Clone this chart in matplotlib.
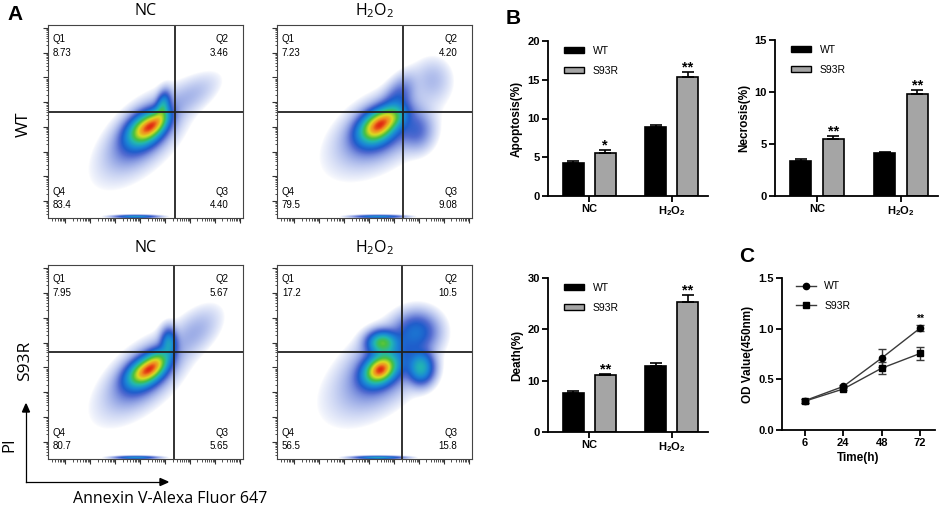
import numpy as np
import matplotlib
matplotlib.use("Agg")
import matplotlib.pyplot as plt
from matplotlib.colors import LinearSegmentedColormap
from matplotlib.lines import Line2D
from matplotlib.patches import Patch

plt.rcParams['mathtext.default'] = 'regular'

W, H = 941, 508

# ---- flow cytometry panels (A) ----
quad_q1 = [8.73, 7.23, 7.95, 17.2]
quad_q2 = [3.46, 4.20, 5.67, 10.5]
quad_q3 = [4.40, 9.08, 5.65, 15.8]
quad_q4 = [83.4, 79.5, 80.7, 56.5]
gate_x = [0.651, 0.646, 0.646, 0.641]
gate_y = [0.549, 0.549, 0.552, 0.552]
flow_titles = ['NC', 'H$_2$O$_2$', 'NC', 'H$_2$O$_2$']
row_labels = ['WT', 'S93R']

# cell clouds: (x, y, sx, sy, rho, weight), axes fraction
wt_nc_blobs = [(0.50, 0.46, 0.055, 0.05, 0.35, 1.0),
               (0.56, 0.50, 0.04, 0.04, 0.4, 0.55),
               (0.59, 0.58, 0.022, 0.045, 0.3, 0.4),
               (0.49, 0.44, 0.09, 0.09, 0.55, 0.22),
               (0.47, 0.40, 0.15, 0.15, 0.6, 0.05),
               (0.74, 0.64, 0.09, 0.07, 0.6, 0.05),
               (0.45, 0.006, 0.065, 0.005, 0.0, 0.45)]
wt_h2o2_blobs = [(0.51, 0.47, 0.055, 0.05, 0.3, 1.0),
                 (0.58, 0.52, 0.05, 0.04, 0.3, 0.5),
                 (0.53, 0.46, 0.10, 0.085, 0.4, 0.22),
                 (0.52, 0.43, 0.17, 0.14, 0.5, 0.05),
                 (0.72, 0.45, 0.05, 0.06, 0.0, 0.12),
                 (0.62, 0.62, 0.05, 0.07, 0.5, 0.15),
                 (0.80, 0.72, 0.06, 0.07, 0.0, 0.05),
                 (0.52, 0.006, 0.075, 0.005, 0.0, 0.4)]
mut_nc_blobs = [(0.50, 0.45, 0.055, 0.045, 0.4, 1.0),
                (0.56, 0.50, 0.04, 0.04, 0.3, 0.5),
                (0.62, 0.60, 0.025, 0.045, 0.0, 0.35),
                (0.50, 0.44, 0.09, 0.085, 0.55, 0.22),
                (0.47, 0.40, 0.15, 0.14, 0.6, 0.05),
                (0.76, 0.66, 0.08, 0.08, 0.5, 0.06),
                (0.45, 0.006, 0.065, 0.005, 0.0, 0.4)]
mut_h2o2_blobs = [(0.53, 0.46, 0.05, 0.045, 0.3, 1.0),
                  (0.54, 0.60, 0.045, 0.035, 0.0, 0.55),
                  (0.74, 0.47, 0.04, 0.05, 0.0, 0.4),
                  (0.72, 0.66, 0.065, 0.06, 0.0, 0.18),
                  (0.56, 0.49, 0.11, 0.11, 0.5, 0.16),
                  (0.50, 0.42, 0.17, 0.15, 0.5, 0.04),
                  (0.52, 0.006, 0.075, 0.005, 0.0, 0.4)]
flow_blobs = [wt_nc_blobs, wt_h2o2_blobs, mut_nc_blobs, mut_h2o2_blobs]

# ---- bar panels (B) ----
groups = ['NC', 'H$_2$O$_2$']
apop_wt = [4.3, 8.85]
apop_wt_err = [0.2, 0.3]
apop_mut = [5.6, 15.4]
apop_mut_err = [0.3, 0.55]
apop_sig = ['*', '**']
necro_wt = [3.37, 4.17]
necro_wt_err = [0.2, 0.09]
necro_mut = [5.45, 9.8]
necro_mut_err = [0.3, 0.35]
necro_sig = ['**', '**']
death_wt = [7.55, 12.95]
death_wt_err = [0.35, 0.45]
death_mut = [11.05, 25.4]
death_mut_err = [0.25, 1.3]
death_sig = ['**', '**']

# ---- growth curve (C) ----
time_labels = ['6', '24', '48', '72']
od_wt = [0.29, 0.43, 0.71, 1.005]
od_wt_err = [0.02, 0.015, 0.09, 0.03]
od_mut = [0.285, 0.405, 0.61, 0.755]
od_mut_err = [0.02, 0.015, 0.06, 0.065]
od_sig = ['', '', '', '**']


def box(x0, y0, x1, y1):
    return [x0 / W, 1 - y1 / H, (x1 - x0) / W, (y1 - y0) / H]


fig = plt.figure(figsize=(W / 100, H / 100), dpi=100)

flow_cmap = LinearSegmentedColormap.from_list(
    'flow', [(0.0, '#4a70dc'), (0.25, '#2242c4'), (0.42, '#1a86d6'),
             (0.56, '#22b8b0'), (0.68, '#48c040'), (0.82, '#dcdc22'),
             (0.93, '#f08a20'), (1.0, '#e02a12')])

flow_boxes = [(48, 25, 243, 218), (277, 25, 472, 218),
              (48, 265, 243, 459), (277, 265, 472, 459)]
title_off = [0.075, 0.075, 0.09, 0.09]

major = 0.088 + 0.128 * np.arange(8)
minor = []
for m in np.concatenate([[major[0] - 0.128], major]):
    for k in range(2, 10):
        p = m + 0.128 * np.log10(k)
        if 0 < p < 1:
            minor.append(p)

g = np.linspace(0, 1, 300)
GX, GY = np.meshgrid(g, g)


def fmt(v):
    return f"{v:.1f}" if v >= 10 else f"{v:.2f}"


for i in range(4):
    ax = fig.add_axes(box(*flow_boxes[i]))
    D = np.zeros_like(GX)
    for bx, by, sx, sy, r, w in flow_blobs[i]:
        dx = (GX - bx) / sx
        dy = (GY - by) / sy
        D += w * np.exp(-0.5 * (dx * dx - 2 * r * dx * dy + dy * dy) / (1 - r * r))
    D /= D.max()
    rgba = flow_cmap(np.clip(D, 0, 1) ** 0.6)
    rgba[..., 3] = np.clip((D - 0.008) / 0.14, 0, 1) ** 0.6
    ax.imshow(rgba, extent=[0, 1, 0, 1], origin='lower',
              interpolation='bilinear', aspect='auto')
    ax.axvline(gate_x[i], color='#222222', lw=1.3)
    ax.axhline(gate_y[i], color='#222222', lw=1.3)
    ax.set_xlim(0, 1)
    ax.set_ylim(0, 1)
    for s in ax.spines.values():
        s.set_color('#444444')
        s.set_linewidth(0.8)
    ax.set_xticks(major)
    ax.set_yticks(major)
    ax.set_xticks(minor, minor=True)
    ax.set_yticks(minor, minor=True)
    ax.set_xticklabels([])
    ax.set_yticklabels([])
    ax.tick_params(which='major', length=3.5, width=0.8, color='#333333')
    ax.tick_params(which='minor', length=1.8, width=0.6, color='#333333')
    qk = dict(fontsize=7, family='Liberation Sans', transform=ax.transAxes,
              va='center')
    ax.text(0.025, 0.93, 'Q1', ha='left', **qk)
    ax.text(0.025, 0.855, fmt(quad_q1[i]), ha='left', **qk)
    ax.text(0.925, 0.93, 'Q2', ha='right', **qk)
    ax.text(0.925, 0.855, fmt(quad_q2[i]), ha='right', **qk)
    ax.text(0.025, 0.135, 'Q4', ha='left', **qk)
    ax.text(0.025, 0.065, fmt(quad_q4[i]), ha='left', **qk)
    ax.text(0.925, 0.135, 'Q3', ha='right', **qk)
    ax.text(0.925, 0.065, fmt(quad_q3[i]), ha='right', **qk)
    ax.text(0.5, 1 + title_off[i], flow_titles[i], transform=ax.transAxes,
            ha='center', va='center', fontsize=11.5, family='Open Sans')

fig.text(24 / W, 1 - 124 / H, row_labels[0], rotation=90, ha='center',
         va='center', fontsize=12.5, family='Open Sans')
fig.text(25 / W, 1 - 361 / H, row_labels[1], rotation=90, ha='center',
         va='center', fontsize=12.5, family='Open Sans')
fig.text(9 / W, 1 - 445 / H, 'PI', rotation=90, ha='center', va='center',
         fontsize=12, family='Open Sans')
fig.text(170 / W, 1 - 499 / H, 'Annexin V-Alexa Fluor 647', ha='center',
         va='center', fontsize=11.5, family='Open Sans')
fig.add_artist(plt.Line2D([26 / W, 160 / W], [1 - 482 / H, 1 - 482 / H],
                          transform=fig.transFigure, color='black', lw=0.9))
fig.add_artist(plt.Line2D([26 / W, 26 / W], [1 - 482 / H, 1 - 412 / H],
                          transform=fig.transFigure, color='black', lw=0.9))
fig.add_artist(plt.Polygon([[22.5 / W, 1 - 412 / H], [29.5 / W, 1 - 412 / H],
                            [26 / W, 1 - 404 / H]], closed=True,
                           transform=fig.transFigure, color='black'))
fig.add_artist(plt.Polygon([[160 / W, 1 - 478.5 / H], [160 / W, 1 - 485.5 / H],
                            [168 / W, 1 - 482 / H]], closed=True,
                           transform=fig.transFigure, color='black'))

letter = dict(fontsize=15, fontweight='bold', family='Liberation Sans',
              ha='center', va='center')
fig.text(15 / W, 1 - 15 / H, 'A', **letter)
fig.text(513 / W, 1 - 18 / H, 'B', **letter)
fig.text(747 / W, 1 - 256 / H, 'C', **letter)

AF = 'Liberation Sans'
GRAY = '#a5a5a5'


def style_axes(ax):
    for s in ['top', 'right']:
        ax.spines[s].set_visible(False)
    for s in ['left', 'bottom']:
        ax.spines[s].set_linewidth(1.3)
    ax.tick_params(length=4, width=1.3, labelsize=8, pad=2)
    for lab in ax.get_xticklabels() + ax.get_yticklabels():
        lab.set_fontweight('bold')
        lab.set_family(AF)


def bar_panel(rect, wt, wt_err, mut, mut_err, sig, yticks, ylabel):
    ax = fig.add_axes(box(*rect))
    x = np.arange(len(groups))
    off, bw = 0.194, 0.255
    ek = dict(elinewidth=1.2, capthick=1.2, capsize=4.5, ecolor='black')
    ax.bar(x - off, wt, bw, color='black', edgecolor='black', lw=1.2,
           yerr=[np.zeros(len(wt)), wt_err], error_kw=ek, label='WT', zorder=2)
    ax.bar(x + off, mut, bw, color=GRAY, edgecolor='black', lw=1.2,
           yerr=[np.zeros(len(mut)), mut_err], error_kw=ek, label='S93R', zorder=2)
    for xi, v, e, s in zip(x + off, mut, mut_err, sig):
        ax.annotate(s, (xi, v + e), xytext=(0, -1.5), textcoords='offset points',
                    ha='center', va='bottom', fontsize=10.5, fontweight='bold',
                    family=AF)
    ax.set_xlim(-0.5, 1.44)
    ax.set_ylim(0, yticks[-1])
    ax.set_yticks(yticks)
    ax.set_xticks(x)
    ax.set_xticklabels(groups)
    ax.set_ylabel(ylabel, fontsize=8.5, fontweight='bold', family=AF, labelpad=3)
    style_axes(ax)
    handles = [Patch(facecolor='black', edgecolor='black', lw=1.0),
               Patch(facecolor=GRAY, edgecolor='black', lw=1.0)]
    ax.legend(handles, ['WT', 'S93R'], loc='upper left', frameon=False,
              bbox_to_anchor=(0.04, 1.03), prop={'family': AF, 'size': 7.5},
              handlelength=1.9, handleheight=0.6, labelspacing=0.95,
              handletextpad=0.9)
    return ax


bar_panel((548, 41, 708, 196), apop_wt, apop_wt_err, apop_mut, apop_mut_err,
          apop_sig, [0, 5, 10, 15, 20], 'Apoptosis(%)')
bar_panel((775, 40, 938, 196), necro_wt, necro_wt_err, necro_mut, necro_mut_err,
          necro_sig, [0, 5, 10, 15], 'Necrosis(%)')
bar_panel((548, 278, 708, 432), death_wt, death_wt_err, death_mut, death_mut_err,
          death_sig, [0, 10, 20, 30], 'Death(%)')

# growth curve
axc = fig.add_axes(box(782, 278, 935, 430))
xt = np.arange(len(time_labels))
axc.errorbar(xt, od_mut, yerr=od_mut_err, color='#3a3a3a', lw=1.0, marker='s',
             ms=4.2, mfc='black', mec='black', ecolor='#3a3a3a', elinewidth=1.0,
             capsize=3, capthick=1.0, label='S93R')
axc.errorbar(xt, od_wt, yerr=od_wt_err, color='#3a3a3a', lw=1.0, marker='o',
             ms=4.5, mfc='black', mec='black', ecolor='#3a3a3a', elinewidth=1.0,
             capsize=3, capthick=1.0, label='WT')
for xi, v, e, s in zip(xt, od_wt, od_wt_err, od_sig):
    if s:
        axc.annotate(s, (xi, v + e), xytext=(0, 1), textcoords='offset points',
                     ha='center', va='bottom', fontsize=7.5, fontweight='bold',
                     family=AF)
axc.set_xlim(-0.6, 3.39)
axc.set_ylim(0, 1.5)
axc.set_yticks([0, 0.5, 1.0, 1.5])
axc.set_yticklabels(['0.0', '0.5', '1.0', '1.5'])
axc.set_xticks(xt)
axc.set_xticklabels(time_labels)
axc.set_ylabel('OD Value(450nm)', fontsize=8.5, fontweight='bold', family=AF,
               labelpad=3)
axc.set_xlabel('Time(h)', fontsize=8.5, fontweight='bold', family=AF, labelpad=3)
style_axes(axc)
lh = [Line2D([], [], color='#3a3a3a', lw=1.0, marker='o', ms=4.5, mfc='black',
             mec='black'),
      Line2D([], [], color='#3a3a3a', lw=1.0, marker='s', ms=4.2, mfc='black',
             mec='black')]
axc.legend(lh, ['WT', 'S93R'], loc='upper left', frameon=False,
           bbox_to_anchor=(0.03, 1.04), prop={'family': AF, 'size': 7.5},
           handlelength=1.9, labelspacing=0.9, handletextpad=0.8)

fig.savefig('out.png', dpi=100)
